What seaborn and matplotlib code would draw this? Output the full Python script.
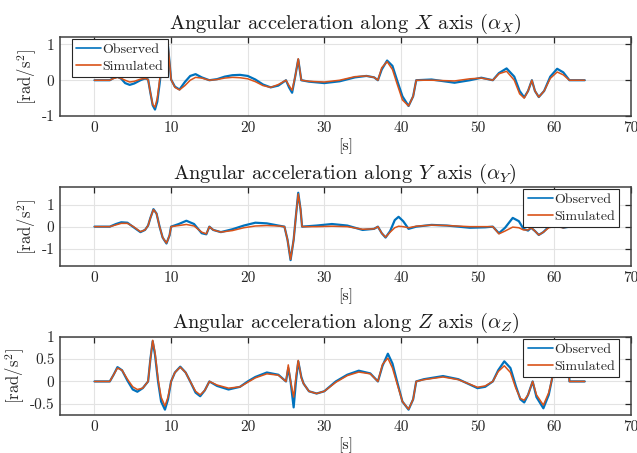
import numpy as np
import pandas as pd
import matplotlib
matplotlib.use("Agg")
import matplotlib.pyplot as plt
import seaborn as sns

# ---------------- data ----------------
t1 = [0, 2, 2.5, 3, 3.5, 4, 4.6, 5.2, 6, 6.6,
      7.0, 7.3, 7.6, 7.9, 8.2, 8.5, 8.8, 9.1, 9.4, 9.6,
      9.8, 10.0, 10.5, 11.1, 11.8, 12.5, 13.2, 14.0, 15.0, 16,
      17, 18, 19, 20, 21, 22, 23, 24, 25, 25.4,
      25.8, 26.2, 26.6, 27.0, 28, 30, 32, 34, 35.5, 36.5,
      37.0, 37.5, 38.2, 38.9, 39.5, 40.2, 41.0, 41.6, 42.0, 44,
      47, 49, 50.5, 52, 52.8, 53.8, 54.8, 55.5, 56.1, 56.6,
      57.1, 57.5, 58.0, 58.7, 59.5, 60.4, 61.2, 62, 64]
obs_x = [0, 0, 0.06, 0.1, 0.04, -0.08, -0.13, -0.09, 0.0, 0.05,
         0.02, -0.35, -0.7, -0.82, -0.6, -0.1, 0.45, 0.9, 1.05, 0.95,
         0.5, 0.02, -0.18, -0.26, -0.05, 0.12, 0.17, 0.08, 0.0, 0.03,
         0.1, 0.14, 0.15, 0.12, 0.02, -0.12, -0.2, -0.15, 0.0, -0.2,
         -0.35, 0.1, 0.58, 0.0, -0.04, -0.08, -0.03, 0.08, 0.12, 0.08,
         0.0, 0.3, 0.55, 0.4, 0.0, -0.45, -0.72, -0.45, 0.0, 0.02,
         -0.07, 0.0, 0.07, 0.0, 0.2, 0.33, 0.1, -0.3, -0.48, -0.3,
         0.0, -0.3, -0.47, -0.3, 0.1, 0.32, 0.22, 0.0, 0]
sim_x = [0, 0, 0.05, 0.08, 0.05, 0.0, -0.05, -0.03, 0.03, 0.05,
         0.02, -0.35, -0.68, -0.75, -0.5, 0.0, 0.55, 0.95, 1.08, 0.98,
         0.5, 0.02, -0.2, -0.27, -0.15, 0.0, 0.08, 0.06, 0.0, 0.02,
         0.06, 0.08, 0.07, 0.04, -0.04, -0.15, -0.2, -0.12, 0.0, -0.15,
         -0.28, 0.1, 0.6, 0.0, -0.03, -0.05, 0.0, 0.1, 0.12, 0.08,
         0.0, 0.35, 0.52, 0.3, -0.1, -0.55, -0.72, -0.45, 0.0, 0.0,
         -0.02, 0.04, 0.06, 0.0, 0.18, 0.25, 0.0, -0.38, -0.5, -0.3,
         0.0, -0.3, -0.47, -0.3, 0.05, 0.23, 0.15, 0.0, 0]

t2 = [0, 2, 2.8, 3.5, 4.3, 5, 6, 6.6, 7.0, 7.3,
      7.7, 8.1, 8.5, 8.9, 9.4, 9.8, 10.0, 11, 12, 13,
      14, 14.6, 15.0, 15.5, 16.5, 18, 19.5, 21, 22.5, 24,
      24.8, 25.2, 25.6, 26.0, 26.3, 26.6, 26.9, 27.1, 29, 31,
      33, 35, 36.5, 37.0, 37.5, 38.0, 38.6, 39.2, 39.7, 40.3,
      41, 42, 44, 46, 49, 51, 52, 52.8, 53.6, 54.6,
      55.4, 56.0, 56.6, 57.0, 57.5, 58.0, 58.6, 59.3, 60.0, 60.6,
      61.2, 62, 64]
obs_y = [0, 0, 0.12, 0.2, 0.18, 0.0, -0.25, -0.15, 0.05, 0.4,
         0.8, 0.6, 0.0, -0.5, -0.77, -0.4, 0.0, 0.12, 0.27, 0.12,
         -0.3, -0.35, 0.0, -0.15, -0.25, -0.12, 0.05, 0.18, 0.15, 0.05,
         0.0, -0.6, -1.53, -0.6, 0.5, 1.55, 0.8, 0.0, 0.05, 0.12,
         0.05, -0.15, -0.1, 0.0, -0.3, -0.5, -0.2, 0.3, 0.45, 0.25,
         -0.1, 0.0, 0.08, 0.05, -0.05, -0.03, 0.0, -0.3, -0.05, 0.4,
         0.25, -0.1, -0.18, -0.05, -0.2, -0.38, -0.25, 0.0, 0.1, 0.05,
         -0.05, 0.0, 0]
sim_y = [0, 0, 0.08, 0.15, 0.15, 0.02, -0.23, -0.15, 0.05, 0.4,
         0.78, 0.6, 0.0, -0.5, -0.75, -0.4, 0.0, 0.05, 0.1, 0.03,
         -0.25, -0.33, 0.0, -0.15, -0.25, -0.18, -0.05, 0.03, 0.05, 0.03,
         0.0, -0.6, -1.5, -0.6, 0.5, 1.5, 0.8, 0.0, 0.0, 0.02,
         0.0, -0.12, -0.1, 0.0, -0.3, -0.48, -0.25, -0.05, 0.02, 0.0,
         -0.05, 0.02, 0.07, 0.05, 0.0, 0.0, 0.0, -0.33, -0.2, -0.02,
         -0.05, -0.15, -0.15, -0.05, -0.2, -0.38, -0.25, -0.05, 0.0, -0.02,
         -0.05, 0.0, 0]

t3 = [0, 2, 2.5, 3.0, 3.6, 4.3, 5.0, 5.6, 6.3, 7.0,
      7.3, 7.6, 7.9, 8.3, 8.7, 9.2, 9.6, 10.0, 10.5, 11.2,
      11.9, 12.5, 13.2, 13.8, 14.4, 15.0, 16, 17.5, 19, 20,
      21, 22.5, 24, 25.0, 25.3, 25.6, 26.0, 26.3, 26.6, 27.0,
      27.3, 28, 29, 30, 31.5, 33, 34.5, 36, 37.0, 37.6,
      38.3, 38.9, 39.5, 40.2, 41.0, 41.6, 42.0, 43, 45.5, 47.5,
      50, 51, 52, 52.7, 53.5, 54.3, 55, 55.6, 56.1, 56.6,
      57.2, 57.7, 58.6, 59.3, 59.9, 60.5, 61.3, 61.95, 62.0, 64]
obs_z = [0, 0, 0.15, 0.32, 0.25, 0.02, -0.18, -0.23, -0.15, 0.0,
         0.5, 0.9, 0.6, 0.0, -0.45, -0.63, -0.4, 0.0, 0.2, 0.33,
         0.2, 0.0, -0.25, -0.33, -0.2, 0.0, -0.1, -0.18, -0.12, 0.0,
         0.1, 0.2, 0.15, 0.0, 0.3, 0.0, -0.58, 0.0, 0.45, 0.1,
         -0.05, -0.22, -0.27, -0.22, 0.0, 0.15, 0.24, 0.18, 0.0, 0.35,
         0.62, 0.4, 0.0, -0.45, -0.63, -0.4, 0.0, 0.05, 0.12, 0.05,
         -0.15, -0.12, 0.0, 0.25, 0.45, 0.3, -0.1, -0.4, -0.47, -0.3,
         0.0, -0.35, -0.6, -0.3, 0.2, 0.5, 0.4, 0.3, 0.0, 0]
sim_z = [0, 0, 0.15, 0.3, 0.25, 0.05, -0.12, -0.18, -0.15, 0.0,
         0.5, 0.92, 0.65, 0.05, -0.35, -0.55, -0.35, 0.0, 0.2, 0.32,
         0.2, 0.0, -0.22, -0.3, -0.2, 0.0, -0.08, -0.15, -0.12, -0.02,
         0.08, 0.17, 0.14, 0.0, 0.37, 0.0, -0.35, 0.1, 0.47, 0.08,
         -0.05, -0.22, -0.27, -0.22, -0.02, 0.13, 0.21, 0.17, 0.0, 0.38,
         0.52, 0.3, -0.05, -0.45, -0.62, -0.4, 0.0, 0.04, 0.1, 0.04,
         -0.13, -0.1, 0.0, 0.22, 0.35, 0.2, -0.15, -0.38, -0.42, -0.3,
         0.0, -0.3, -0.53, -0.25, 0.18, 0.45, 0.38, 0.3, 0.0, 0]

titles = [r"Angular acceleration along $X$ axis ($\alpha_X$)",
          r"Angular acceleration along $Y$ axis ($\alpha_Y$)",
          r"Angular acceleration along $Z$ axis ($\alpha_Z$)"]
series_labels = ["Observed", "Simulated"]
x_ticks = [0, 10, 20, 30, 40, 50, 60, 70]
y_ticks = [[-1, 0, 1], [-1, 0, 1], [-0.5, 0, 0.5, 1]]
y_ticklabels = [["-1", "0", "1"], ["-1", "0", "1"], ["-0.5", "0", "0.5", "1"]]
y_lims = [(-1, 1.2), (-1.8, 1.8), (-0.75, 1.0)]

# ---------------- style ----------------
sns.set_theme(style="whitegrid")
plt.rcParams.update({
    "font.family": ["cmr10", "DejaVu Serif"],
    "mathtext.fontset": "cm",
    "axes.unicode_minus": False,
    "axes.formatter.use_mathtext": False,
    "axes.edgecolor": "#404040",
    "axes.linewidth": 1.1,
    "grid.color": "#e3e3e3",
    "grid.linewidth": 0.8,
    "xtick.color": "#262626",
    "ytick.color": "#262626",
})

blue = "#0072BD"
orange = "#D95319"

fig = plt.figure(figsize=(6.37, 4.53), dpi=100)
W, H = 637, 453
left_px, right_px = 60, 630.7
boxes = [(37.3, 116.0), (187.3, 266.0), (336.7, 415.0)]
legend_anchor = [((72 - 60) / 570.7, 0.978, "upper left"),
                 ((619 - 60) / 570.7, 0.978, "upper right"),
                 ((619 - 60) / 570.7, 0.971, "upper right")]

data = [(t1, obs_x, sim_x), (t2, obs_y, sim_y), (t3, obs_z, sim_z)]

for i, ((top, bot), (t, obs, sim)) in enumerate(zip(boxes, data)):
    ax = fig.add_axes([left_px / W, 1 - bot / H, (right_px - left_px) / W, (bot - top) / H])
    df_obs = pd.DataFrame({"t": t, "v": obs, "s": series_labels[0]})
    df_sim = pd.DataFrame({"t": t, "v": sim, "s": series_labels[1]})
    sns.lineplot(data=df_obs, x="t", y="v", color=blue, label=series_labels[0],
                 estimator=None, sort=False, linewidth=1.6, ax=ax)
    sns.lineplot(data=df_sim, x="t", y="v", color=orange, label=series_labels[1],
                 estimator=None, sort=False, linewidth=1.1, ax=ax)
    ax.set_xlim(-4.5, 70)
    ax.set_ylim(*y_lims[i])
    ax.set_xticks(x_ticks)
    ax.set_xticklabels([str(v) for v in x_ticks])
    ax.set_yticks(y_ticks[i])
    ax.set_yticklabels(y_ticklabels[i])
    ax.tick_params(direction="in", length=4, width=0.9, top=True, right=True,
                   labelsize=11, pad=4, colors="#262626")
    ax.grid(True)
    ax.set_title(titles[i], fontsize=14.7, pad=6, color="#1a1a1a")
    ax.set_xlabel("[s]", fontsize=11.5, labelpad=2.5, color="#262626")
    ax.set_ylabel(r"[rad/s$^2$]", fontsize=12, labelpad=2, color="#262626")
    for sp in ax.spines.values():
        sp.set_visible(True)
        sp.set_color("#404040")
    lx, ly, loc = legend_anchor[i]
    leg = ax.legend(loc=loc, bbox_to_anchor=(lx, ly), borderaxespad=0,
                    fancybox=False, framealpha=1, edgecolor="#262626",
                    fontsize=10, handlelength=1.8, handletextpad=0.1,
                    labelspacing=0.3, borderpad=0.3)
    leg.get_frame().set_linewidth(0.8)
    for ln in leg.get_lines():
        ln.set_linewidth(1.2)

fig.savefig("out.png", dpi=100)
